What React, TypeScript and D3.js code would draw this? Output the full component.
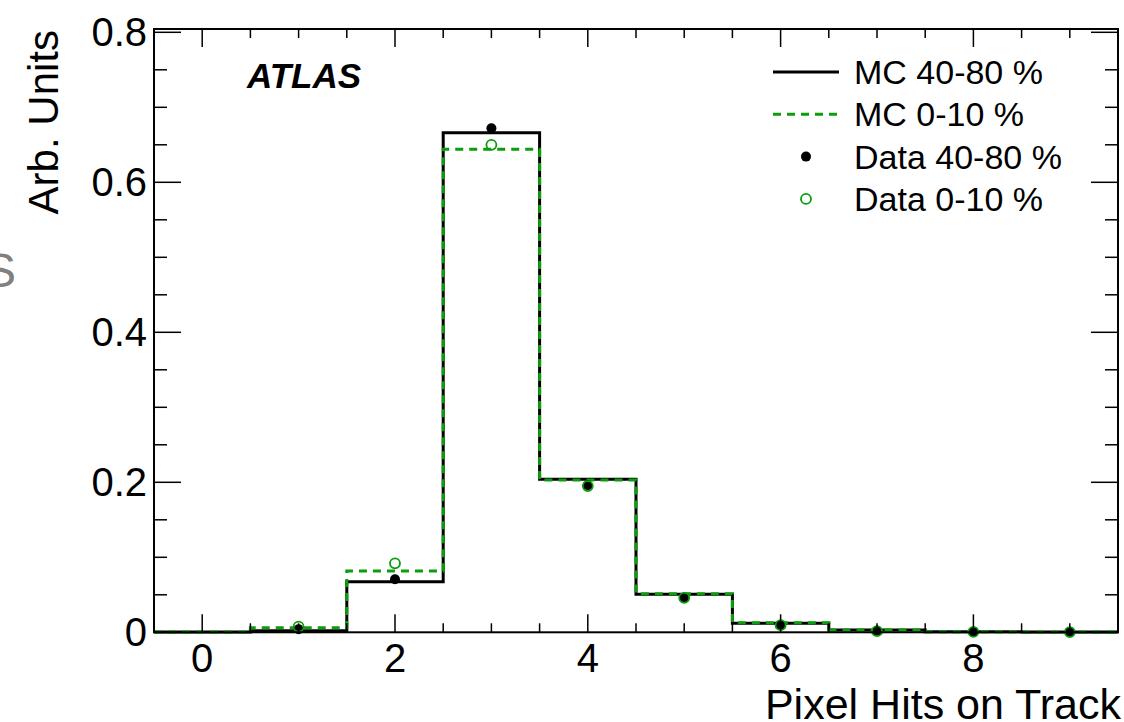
import React from "react";
import * as d3 from "d3";

const bins = [0, 1, 2, 3, 4, 5, 6, 7, 8, 9];
const mcPeripheral = [0.0003, 0.002, 0.0675, 0.666, 0.204, 0.0507, 0.012, 0.003, 0.0008, 0.0004];
const mcCentral = [0.0003, 0.006, 0.0817, 0.644, 0.203, 0.0515, 0.0128, 0.003, 0.0008, 0.0004];
const dataPeripheral = [null, 0.004, 0.0707, 0.672, 0.196, 0.046, 0.0097, 0.0017, 0.0005, 0.0003];
const dataCentral = [null, 0.0075, 0.092, 0.65, 0.195, 0.046, 0.0095, 0.0015, 0.0005, 0.0003];
const xTicks = [0, 2, 4, 6, 8];
const yTicks = [0, 0.2, 0.4, 0.6, 0.8];
const yTickLabels = ["0", "0.2", "0.4", "0.6", "0.8"];
const legendItems = ["MC 40-80 %", "MC 0-10 %", "Data 40-80 %", "Data 0-10 %"];

const GREEN = "#0b9d0b";
const FONT = "'Liberation Sans', Arial, Helvetica, sans-serif";

export default function App() {
  const W = 1124, H = 722;
  const left = 154, right = 1118, top = 29, bottom = 632.3;
  const x = d3.scaleLinear().domain([-0.5, 9.5]).range([left, right]);
  const y = d3.scaleLinear().domain([0, (bottom - top) / 750]).range([bottom, top]);

  const stepPath = (vals: number[]) => {
    const pts: [number, number][] = [];
    bins.forEach((b, i) => {
      pts.push([x(b - 0.5), y(vals[i])]);
      pts.push([x(b + 0.5), y(vals[i])]);
    });
    return d3.line()(pts) as string;
  };

  const xMinor = d3.range(-0.5, 9.51, 0.5).filter((v) => Math.abs(v % 2) > 1e-6);
  const yMinor = d3.range(0, 0.801, 0.05).filter((v) => Math.abs((v / 0.2) - Math.round(v / 0.2)) > 1e-6);

  const legX0 = 773, legX1 = 839, legTx = 854, legY0 = 72, legDy = 42.3;

  return (
    <svg width={W} height={H} style={{ position: "absolute", left: 0, top: 0, background: "#fff" }} fontFamily={FONT}>
      <rect x={0} y={0} width={W} height={H} fill="#fff" />
      {/* grey clipped letter at far left */}
      <text x={16} y={287} fontSize={48} fill="#808080" textAnchor="end">S</text>

      {/* histograms */}
      <path d={stepPath(mcPeripheral)} fill="none" stroke="#000" strokeWidth={3} />
      <path d={stepPath(mcCentral)} fill="none" stroke={GREEN} strokeWidth={3} strokeDasharray="8,6" />

      {/* data points */}
      {bins.map((b, i) =>
        dataPeripheral[i] == null ? null : (
          <circle key={"dp" + i} cx={x(b)} cy={y(dataPeripheral[i] as number)} r={5} fill="#000" />
        )
      )}
      {bins.map((b, i) =>
        dataCentral[i] == null ? null : (
          <circle key={"dc" + i} cx={x(b)} cy={y(dataCentral[i] as number)} r={5} fill="none" stroke={GREEN} strokeWidth={1.8} />
        )
      )}

      {/* frame */}
      <rect x={left} y={top} width={right - left} height={bottom - top} fill="none" stroke="#000" strokeWidth={2} />

      {/* x ticks */}
      {xTicks.map((t) => (
        <g key={"xt" + t}>
          <line x1={x(t)} x2={x(t)} y1={bottom} y2={bottom - 18} stroke="#000" strokeWidth={1.5} />
          <line x1={x(t)} x2={x(t)} y1={top} y2={top + 18} stroke="#000" strokeWidth={1.5} />
          <text x={x(t)} y={672} fontSize={40} textAnchor="middle">{t}</text>
        </g>
      ))}
      {xMinor.map((t) => (
        <g key={"xm" + t}>
          <line x1={x(t)} x2={x(t)} y1={bottom} y2={bottom - 9} stroke="#000" strokeWidth={1.5} />
          <line x1={x(t)} x2={x(t)} y1={top} y2={top + 9} stroke="#000" strokeWidth={1.5} />
        </g>
      ))}

      {/* y ticks */}
      {yTicks.map((t, i) => (
        <g key={"yt" + t}>
          <line x1={left} x2={left + 27} y1={y(t)} y2={y(t)} stroke="#000" strokeWidth={1.5} />
          <line x1={right} x2={right - 27} y1={y(t)} y2={y(t)} stroke="#000" strokeWidth={1.5} />
          <text x={147} y={y(t) + 14} fontSize={40} textAnchor="end">{yTickLabels[i]}</text>
        </g>
      ))}
      {yMinor.map((t) => (
        <g key={"ym" + t}>
          <line x1={left} x2={left + 13} y1={y(t)} y2={y(t)} stroke="#000" strokeWidth={1.5} />
          <line x1={right} x2={right - 13} y1={y(t)} y2={y(t)} stroke="#000" strokeWidth={1.5} />
        </g>
      ))}

      {/* axis titles */}
      <text x={1121} y={719} fontSize={43} textAnchor="end">Pixel Hits on Track</text>
      <text transform={`translate(58,30) rotate(-90)`} fontSize={42} textAnchor="end">Arb. Units</text>

      {/* ATLAS label */}
      <text x={247} y={88} fontSize={35} fontWeight="bold" fontStyle="italic">ATLAS</text>

      {/* legend */}
      <line x1={legX0} x2={legX1} y1={legY0} y2={legY0} stroke="#000" strokeWidth={3} />
      <line x1={legX0} x2={legX1} y1={legY0 + legDy} y2={legY0 + legDy} stroke={GREEN} strokeWidth={3} strokeDasharray="8,6" />
      <circle cx={(legX0 + legX1) / 2} cy={legY0 + 2 * legDy} r={5} fill="#000" />
      <circle cx={(legX0 + legX1) / 2} cy={legY0 + 3 * legDy} r={5} fill="none" stroke={GREEN} strokeWidth={1.8} />
      {legendItems.map((s, i) => (
        <text key={s} x={legTx} y={legY0 + i * legDy + 12} fontSize={34}>{s}</text>
      ))}
    </svg>
  );
}
